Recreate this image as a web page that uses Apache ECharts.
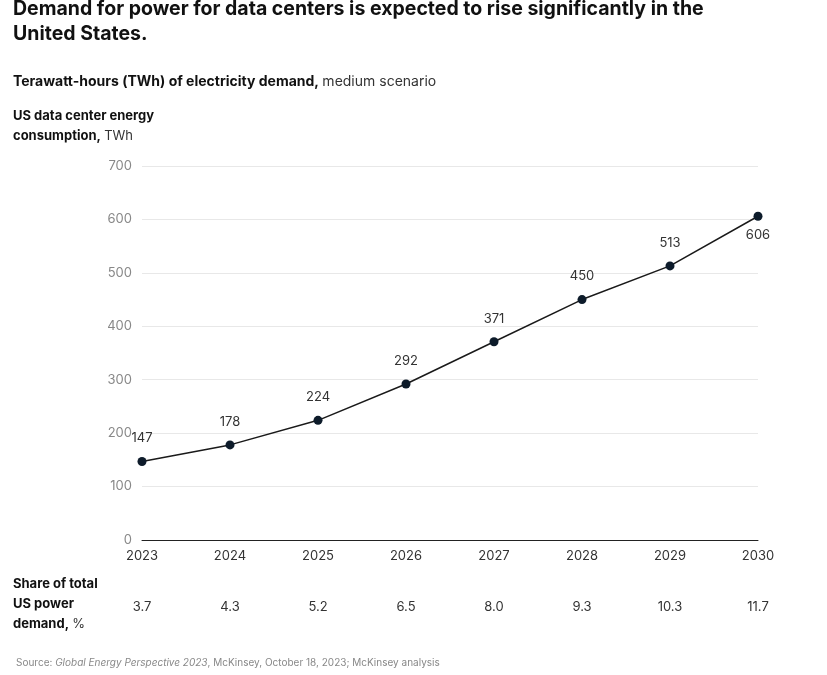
<!DOCTYPE html>
<html>
<head>
<meta charset="utf-8">
<script src="https://cdn.jsdelivr.net/npm/echarts@6/dist/echarts.min.js"></script>
<style>html,body{margin:0;padding:0;background:#fff}#chart{width:827px;height:675px}</style>
</head>
<body>
<div id="chart"></div>
<script>
var years = ['2023', '2024', '2025', '2026', '2027', '2028', '2029', '2030'];
var demand = [147, 178, 224, 292, 371, 450, 513, 606];
var share = ['3.7', '4.3', '5.2', '6.5', '8.0', '9.3', '10.3', '11.7'];

var font = 'Inter, "Noto Sans", sans-serif';
var chart = echarts.init(document.getElementById('chart'));

var shareText = share.map(function (s, i) {
    return {
        type: 'text', x: 142 + i * 88, y: 607,
        style: {text: s, font: '13px ' + font, fill: '#333', align: 'center', verticalAlign: 'middle'}
    };
});

var points = demand.map(function (v, i) {
    if (i === demand.length - 1) {
        return {value: v, label: {position: 'bottom', distance: 8}};
    }
    return v;
});

chart.setOption({
    animation: false,
    grid: {left: 142, right: 69, top: 166, bottom: 135},
    xAxis: {
        type: 'category', data: years, boundaryGap: false,
        axisLine: {lineStyle: {color: '#222'}},
        axisTick: {show: false},
        axisLabel: {color: '#333', fontSize: 13, fontFamily: font, margin: 10}
    },
    yAxis: {
        type: 'value', min: 0, max: 700, interval: 100,
        axisLine: {show: false}, axisTick: {show: false},
        axisLabel: {color: '#888', fontSize: 13, fontFamily: font, margin: 10},
        splitLine: {lineStyle: {color: '#e8e8e8'}}
    },
    series: [{
        type: 'line', data: points,
        symbol: 'circle', symbolSize: 9,
        lineStyle: {color: '#1a1a1a', width: 1.5},
        itemStyle: {color: '#0d1b2a'},
        label: {show: true, position: 'top', distance: 12, color: '#333', fontSize: 13, fontFamily: font}
    }],
    graphic: [
        {type: 'text', left: 13, top: -3, style: {text: 'Demand for power for data centers is expected to rise significantly in the\nUnited States.', font: 'bold 19.5px ' + font, fill: '#111', lineHeight: 25}},
        {type: 'text', left: 13, top: 75, style: {rich: {b: {font: 'bold 14px ' + font, fill: '#111'}, n: {font: '14px ' + font, fill: '#333'}}, text: '{b|Terawatt-hours (TWh) of electricity demand,} {n|medium scenario}'}},
        {type: 'text', left: 13, top: 110, style: {rich: {b: {font: 'bold 13px ' + font, fill: '#111', lineHeight: 20}, n: {font: '13px ' + font, fill: '#333', lineHeight: 20}}, text: '{b|US data center energy}\n{b|consumption,} {n|TWh}'}},
        {type: 'text', left: 13, top: 578, style: {rich: {b: {font: 'bold 13px ' + font, fill: '#111', lineHeight: 20}, n: {font: '13px ' + font, fill: '#333', lineHeight: 20}}, text: '{b|Share of total}\n{b|US power}\n{b|demand,} {n|%}'}},
        {type: 'text', left: 16, top: 658, style: {rich: {n: {font: '10px ' + font, fill: '#888'}, i: {font: 'italic 10px ' + font, fill: '#888'}}, text: '{n|Source: }{i|Global Energy Perspective 2023}{n|, McKinsey, October 18, 2023; McKinsey analysis}'}}
    ].concat(shareText)
});
</script>
</body>
</html>
